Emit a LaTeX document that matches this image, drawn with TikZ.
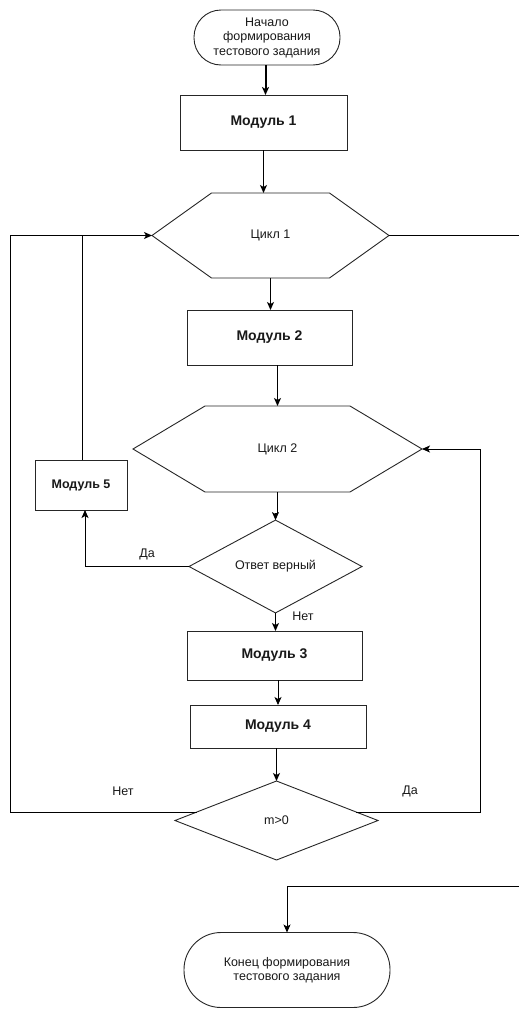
\documentclass[tikz,border=0pt]{standalone}
\usepackage{fontspec}
\setmainfont{Liberation Sans}
\usetikzlibrary{shapes.geometric,arrows.meta,calc}
\begin{document}
\begin{tikzpicture}[x=1pt,y=-1pt,
  shapeline/.style={draw=black!85, line width=0.9pt},
  txt/.style={font=\fontsize{12.5}{14.5}\selectfont, text=black!90},
  modbox/.style={shapeline, txt, font=\bfseries\fontsize{14}{16}\selectfont, inner sep=0pt, outer sep=0pt},
  term/.style={shapeline, txt, align=center, inner sep=0pt, outer sep=0pt},
  hexbox/.style={txt, inner sep=0pt, outer sep=0pt},
  dia/.style={shapeline, txt, diamond, inner sep=0pt, outer sep=0pt},
  ln/.style={line width=0.9pt, draw=black},
  arr/.style={ln, -{Stealth[length=8pt,width=7pt,inset=2pt]}},
  lbl/.style={txt, inner sep=0pt}
]
\useasboundingbox (0,0) rectangle (519,1020);
\fill[white] (0,0) rectangle (519,1020);

% nodes
\node[term, minimum width=146pt, minimum height=55pt, rounded corners=27pt] (start) at (267,37.5) {Начало\\формирования\\тестового задания};
\node[modbox, draw, minimum width=167pt, minimum height=55pt] (m1) at (263.5,122.5) {Модуль 1};
\node[hexbox, minimum width=237pt, minimum height=85pt] (c1) at (270.5,235.5) {Цикл 1};
\draw[shapeline] (c1.west) -- ($(c1.north west)+(59.5,0)$) -- ($(c1.north east)+(-59.5,0)$) -- (c1.east) -- ($(c1.south east)+(-59.5,0)$) -- ($(c1.south west)+(59.5,0)$) -- cycle;
\node[modbox, draw, minimum width=165pt, minimum height=55pt] (m2) at (269.5,337.5) {Модуль 2};
\node[hexbox, minimum width=289pt, minimum height=86pt] (c2) at (277.5,449) {Цикл 2};
\draw[shapeline] (c2.west) -- ($(c2.north west)+(72,0)$) -- ($(c2.north east)+(-72,0)$) -- (c2.east) -- ($(c2.south east)+(-72,0)$) -- ($(c2.south west)+(72,0)$) -- cycle;
\node[dia, minimum width=173pt, minimum height=73pt] (ans) at (275.5,566.5) {Ответ верный};
\node[modbox, draw, font=\bfseries\fontsize{12.5}{15}\selectfont, minimum width=92pt, minimum height=50pt] (m5) at (81,485) {Модуль 5};
\node[modbox, draw, minimum width=175pt, minimum height=49pt] (m3) at (274.5,655.5) {Модуль 3};
\node[modbox, draw, minimum width=176pt, minimum height=43pt] (m4) at (278,726.5) {Модуль 4};
\node[dia, minimum width=203pt, minimum height=79pt] (m0) at (276.5,820.5) {m>0};
\node[term, minimum width=206pt, minimum height=75pt, rounded corners=37pt] (end) at (287,970) {Конец формирования\\тестового задания};

% helper coordinates
\coordinate (L) at (10,0);
\coordinate (R) at (480,0);
\coordinate (Edge) at (519,0);
\coordinate (E2) at (519,886);
\coordinate (s1) at ($(start.south)+(-1.5,0)$);
\coordinate (m5up) at ($(m5.north)+(1,0)$);
\coordinate (m5in) at ($(m5.south)+(4,0)$);
\coordinate (c2jog) at ($(c2.south)+(0,21)$);

% connectors
\draw[arr, line width=2pt] (s1) -- (s1 |- m1.north);
\draw[arr] (m1.south) -- (m1.south |- c1.north);
\draw[arr] (c1.south) -- (c1.south |- m2.north);
\draw[arr] (c2.north |- m2.south) -- (c2.north);
\draw[arr] (c2.south) -- (c2jog) -| (ans.north);
\draw[arr] (ans.west) -| (m5in);
\node[lbl] (da1) at (147,554) {Да};
\draw[ln] (m5up) -- (m5up |- c1.west);
\draw[arr] (ans.south) -- (ans.south |- m3.north);
\node[lbl] (net1) at (303,616) {Нет};
\draw[arr] (m4.north |- m3.south) -- (m4.north);
\draw[arr] (m0.north |- m4.south) -- (m0.north);
\draw[arr] (m0.174) -- (m0.174 -| L) |- (c1.west);
\node[lbl] (net2) at (123,791) {Нет};
\draw[arr] (m0.6) -- (m0.6 -| R) |- (c2.east);
\node[lbl] (da2) at (410,791) {Да};
\draw[ln] (c1.east) -- (c1.east -| Edge);
\draw[arr] (E2) -| (end.north);
\end{tikzpicture}
\end{document}
